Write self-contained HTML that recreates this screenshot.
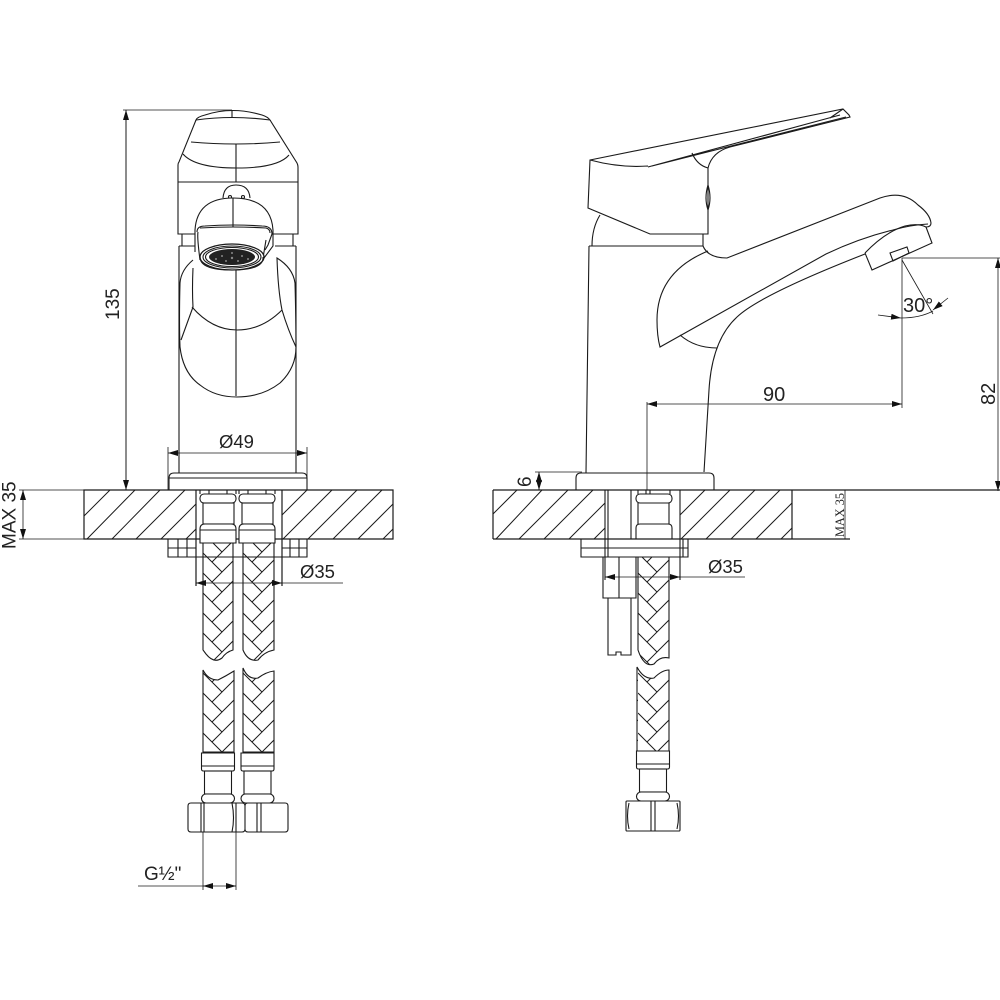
<!DOCTYPE html>
<html>
<head>
<meta charset="utf-8">
<style>
html,body{margin:0;padding:0;background:#fff;width:1000px;height:1000px;overflow:hidden}
svg{display:block}
text{font-family:"Liberation Sans",sans-serif;font-size:19px;fill:#222}
.l{fill:none;stroke:#1a1a1a;stroke-width:1.1}
.t{fill:none;stroke:#1a1a1a;stroke-width:.8}
.w{fill:#fff;stroke:#1a1a1a;stroke-width:1.1}
.h{stroke:#1a1a1a;stroke-width:1;fill:none}
</style>
</head>
<body>
<svg width="1000" height="1000" viewBox="0 0 1000 1000" xmlns="http://www.w3.org/2000/svg">
<defs>
<g id="tile"><path class="h" d="M0 -40L19 -21M0 -20L19 -1M0 0L19 19M0 20L19 39M31 -33L9 -11M31 -13L9 9M31 7L9 29"/></g>
<pattern id="p1" patternUnits="userSpaceOnUse" width="31" height="20" patternTransform="translate(203,553)"><use href="#tile"/></pattern>
<pattern id="p2" patternUnits="userSpaceOnUse" width="31" height="20" patternTransform="translate(243,553)"><use href="#tile"/></pattern>
<pattern id="p3" patternUnits="userSpaceOnUse" width="31" height="20" patternTransform="translate(638,553)"><use href="#tile"/></pattern>
<marker id="a" viewBox="0 0 10 6" refX="10" refY="3" markerWidth="10" markerHeight="6" markerUnits="userSpaceOnUse" orient="auto-start-reverse"><path d="M0 0L10 3L0 6Z" fill="#111"/></marker>
<g id="fit">
<path class="l" d="M0 4V0M9 4V0M27 4V0M36 4V0"/>
<rect class="w" x="0" y="4" width="36" height="9" rx="4"/>
<rect class="w" x="3" y="13" width="31" height="21"/>
<path class="w" d="M0 53V39Q0 34 5 34H31Q36 34 36 39V53Z"/>
<path class="l" d="M0 40H36"/>
</g>
<g id="fitb">
<path class="w" d="M2 0H35V16Q35 18 33 18H4Q2 18 2 16Z"/>
<path class="l" d="M2 13H35"/>
<rect class="w" x="5" y="18" width="27" height="23"/>
<rect class="w" x="2" y="41" width="33" height="9" rx="4.5"/>
</g>
</defs>

<!-- ============ LEFT VIEW ============ -->
<path class="t" d="M123 110H232"/>
<path class="t" d="M126 110V490" marker-start="url(#a)" marker-end="url(#a)" style="stroke-width:1"/>
<text transform="translate(119,320) rotate(-90)">135</text>

<!-- body -->
<path class="l" d="M179 246V473M296 246V473M179 246H197M275 246H296M182 234V246M293 234V246"/>
<!-- handle -->
<path class="l" d="M196 120L179 162Q178 163 178 165V234H198M270 120L297 163Q298 165 298 167V234H272M178 182H298"/>
<path class="l" d="M196 120Q197 117 205 115Q232 106 262 115Q268 117 270 120Q232 115 196 120Z"/>
<path class="l" d="M232 110V117"/>
<path class="l" d="M191 142Q236 146 280 142M183 154Q195 168 237 168Q278 168 289 155M236 144V182"/>
<path class="l" d="M223 198Q224 185 236 185Q249 185 250 198"/>
<circle cx="230" cy="197" r="1.5" class="l"/><circle cx="243" cy="197" r="1.5" class="l"/>
<!-- spout -->
<path class="w" d="M195 230Q197 198 233 198Q271 198 273 227V238L272 246L266 250L263 262L200 262L198 252L195 246Z" style="stroke:none"/>
<path class="l" d="M195 252V230Q197 198 233 198Q271 198 273 230V246L264 258"/>
<path class="l" d="M233 198V227"/>
<path class="l" d="M197 232Q197 226 205 226Q233 224 262 226Q272 226 272 234L268 245L265 250M200 228Q233 226 266 228Q270 229 270 233"/>
<path class="l" d="M198 232Q197 237 200 260M266 240L263 258"/>
<!-- lower spout body -->
<path class="l" d="M193 260Q181 270 180 283Q179 320 180 347Q183 373 200 385Q215 397 237 397Q262 397 280 383Q296 368 296 347Q288 330 282 310Q278 290 277 258Q293 268 295 283Q296 320 296 347"/>
<path class="l" d="M193 268Q192 290 193 307L181 340M192 307Q212 330 237 330Q262 330 282 310M236 270V396"/>
<!-- aerator -->
<ellipse cx="232" cy="257" rx="32" ry="13" class="w" style="stroke-width:1.3"/>
<ellipse cx="232" cy="257" rx="29" ry="11" class="l"/>
<ellipse cx="232" cy="257" rx="26.5" ry="9.5" class="l"/>
<ellipse cx="232" cy="257" rx="23" ry="8" fill="#222"/>
<g fill="#888"><circle cx="232" cy="253" r="1"/><circle cx="232" cy="258" r="1.2"/><circle cx="222" cy="256" r="1"/><circle cx="242" cy="256" r="1"/><circle cx="216" cy="259" r="1"/><circle cx="248" cy="259" r="1"/><circle cx="226" cy="261" r="1"/><circle cx="238" cy="261" r="1"/></g>
<path class="l" d="M200 257Q200 270 232 270Q264 270 263 257"/>

<!-- Ø49 -->
<path class="t" d="M168 447V490M307 447V490"/>
<path class="t" d="M168 453H307" marker-start="url(#a)" marker-end="url(#a)"/>
<text x="219" y="448" style="font-size:18.5px">Ø49</text>
<path class="l" d="M169 490V478Q169 473 174 473H302Q307 473 307 478V490M169 478H307"/>

<!-- slab left -->
<path class="t" d="M19 490H84M19 539H84"/>
<path class="t" d="M23 490V539" marker-start="url(#a)" marker-end="url(#a)"/>
<text transform="translate(15.5,549) rotate(-90)">MAX 35</text>
<path class="h" d="M110 490L84 516M135 490L87 539M160 490L112 539M185 490L136 539M196 504L161 539M196 529L186 539M307 490L282 515M332 490L283 539M357 490L308 539M382 490L333 539M393 504L358 539M393 529L383 539"/>
<path class="l" d="M84 490H393V539H84ZM196 490V586M282 490V586" style="stroke-width:1.2"/>
<!-- washer -->
<path class="l" d="M168 539V557H307V539M168 548H196M282 548H307M178 539V557M187 539V557M290 539V557M299 539V557"/>
<!-- fittings -->
<use href="#fit" x="200" y="490"/>
<use href="#fit" x="239" y="490"/>
<!-- hoses upper -->
<path fill="url(#p1)" stroke="#1a1a1a" stroke-width="1.1" d="M203 543H233V650Q226 652 222 658Q214 664 206 654L203 650Z"/>
<path fill="url(#p2)" stroke="#1a1a1a" stroke-width="1.1" d="M243 543H274V650Q264 652 258 660Q248 662 243 650Z"/>
<path class="t" d="M196 583H343" />
<path class="t" d="M196 583H206" marker-start="url(#a)"/><path class="t" d="M272 583H282" marker-end="url(#a)"/>
<text x="300" y="578" style="font-size:18.5px">Ø35</text>
<!-- hoses lower -->
<path fill="url(#p1)" stroke="#1a1a1a" stroke-width="1.1" d="M203 670Q208 680 218 680Q226 676 234 671V752H203Z"/>
<path fill="url(#p2)" stroke="#1a1a1a" stroke-width="1.1" d="M243 668Q248 680 258 678Q266 672 274 671V752H243Z"/>
<use href="#fitb" x="199.500" y="753"/>
<use href="#fitb" x="239" y="753"/>
<!-- nuts -->
<path class="w" d="M191 803H242Q245 803 245 806V829Q245 832 242 832H191Q188 832 188 829V806Q188 803 191 803ZM248 803H285Q288 803 288 806V829Q288 832 285 832H248Q245 832 245 829V806Q245 803 248 803Z"/>
<path class="l" d="M201 803V832M204 803V832M232 803Q235 818 232 832M236 803V832M257 803V832M261 803V832"/>
<!-- G1/2 -->
<path class="t" d="M203 832V890M236 832V890"/>
<path class="t" d="M138 886H236"/>
<path class="t" d="M213 886H203" marker-end="url(#a)"/><path class="t" d="M226 886H236" marker-end="url(#a)"/>
<text x="144" y="880">G½"</text>

<!-- ============ RIGHT VIEW ============ -->
<!-- handle -->
<path class="l" d="M590 160L843 109L849 115L850 117L730 147Q712 152 708 168V234H650L588 208Z"/>
<path class="l" d="M590 160Q620 168 648 166M648 167L840 115M652 166L846 117M830 118L843 109M692 153Q697 165 708 168"/>
<path class="l" d="M708 185Q704 198 708 210Q712 198 708 185Z"/>
<!-- neck/body -->
<path class="l" d="M600 215Q592 228 592 246M703 234V246M589 246H703M589 246L586 473"/>
<!-- spout -->
<path class="l" d="M703 246Q708 258 727 258L880 198Q903 190 918 205Q930 214 931 223Q931 227 926 227Q918 223 905 226Q885 232 865 253"/>
<path class="l" d="M708 251Q657 272 657 320Q657 336 660 347L826 254Q860 238 893 230Q910 225 928 224"/>
<path class="l" d="M704 472L709 390Q712 340 737 317Q760 295 865 254"/>
<path class="l" d="M680 335Q695 348 717 348"/>
<!-- aerator -->
<path class="l" d="M865 253L872 270L932 243L926 227"/>
<path class="l" d="M890 253L907 247L909 253L893 261Z"/>
<!-- 30° / 82 / 90 -->
<path class="t" d="M902 258H1000"/>
<path class="t" d="M998 258V491" marker-start="url(#a)" marker-end="url(#a)"/>
<text transform="translate(995,405) rotate(-90)" style="font-size:20px">82</text>
<path class="t" d="M902 258V408"/>
<path class="t" d="M902 260L933 314"/>
<path class="t" d="M901 318Q920 318 933 311"/>
<path class="t" d="M878 315L901 318" marker-end="url(#a)"/>
<path class="t" d="M948 298L933 310" marker-end="url(#a)"/>
<text x="903" y="312" style="font-size:20px">30°</text>
<path class="t" d="M647 402V490"/>
<path class="t" d="M647 404H902" marker-start="url(#a)" marker-end="url(#a)"/>
<text x="763" y="401" style="font-size:20px">90</text>
<!-- base -->
<path class="l" d="M576 490V478Q576 473 581 473H709Q714 473 714 478V490"/>
<!-- 6 -->
<path class="t" d="M535 472H582"/>
<path class="t" d="M539 472V490" marker-start="url(#a)" marker-end="url(#a)" />
<text transform="translate(531,487) rotate(-90)">6</text>
<!-- slab right -->
<path class="h" d="M517 490L493 514M542 490L496 539M568 490L519 539M593 490L544 539M605 503L569 539M605 528L594 539M705 490L680 515M730 490L681 539M755 490L706 539M780 490L731 539M792 503L756 539M792 528L781 539"/>
<path class="l" d="M493 490H1000M493 539H850M493 490V539M792 490V539" style="stroke-width:1.2"/>
<path class="l" d="M605 490V580M680 490V580M608 490V557M631 490V539"/>
<path class="t" d="M845 490V539"/>
<text transform="translate(844,537) rotate(-90)" textLength="44" lengthAdjust="spacingAndGlyphs" style="font-family:'Liberation Serif',serif;font-size:13px">MAX 35</text>
<!-- fitting -->
<path class="l" d="M638 490V494M646 490V494M650 490V494M670 490V494"/>
<rect class="w" x="636" y="494" width="36" height="9" rx="4"/>
<path class="l" d="M638 503V524M669 503V524"/>
<path class="l" d="M636 539V528Q636 524 640 524H668Q672 524 672 528V539"/>
<!-- plate -->
<path class="l" d="M581 539V557H688V539M581 548H688M683 539V557"/>
<!-- stem -->
<path class="l" d="M603 557V598H636V557M619 557V598M608 598V655H616V652H621V655H631V598"/>
<!-- hose right -->
<path fill="url(#p3)" stroke="#1a1a1a" stroke-width="1.1" d="M638 557H669V658Q660 656 654 664Q644 668 638 650Z"/>
<path class="t" d="M605 577H745"/>
<path class="t" d="M615 577H605" marker-end="url(#a)"/><path class="t" d="M670 577H680" marker-end="url(#a)"/>
<text x="708" y="573" style="font-size:18.5px">Ø35</text>
<path fill="url(#p3)" stroke="#1a1a1a" stroke-width="1.1" d="M637 667Q644 680 654 678Q662 670 669 670V751H637Z"/>
<use href="#fitb" x="634.500" y="751"/>
<!-- nut -->
<rect class="w" x="626" y="801" width="54" height="30" rx="1"/>
<path class="l" d="M651 801V831M655 801V831"/>
<path class="l" d="M629 803Q626 816 629 829M677 803Q680 816 677 829"/>
</svg>
</body>
</html>
